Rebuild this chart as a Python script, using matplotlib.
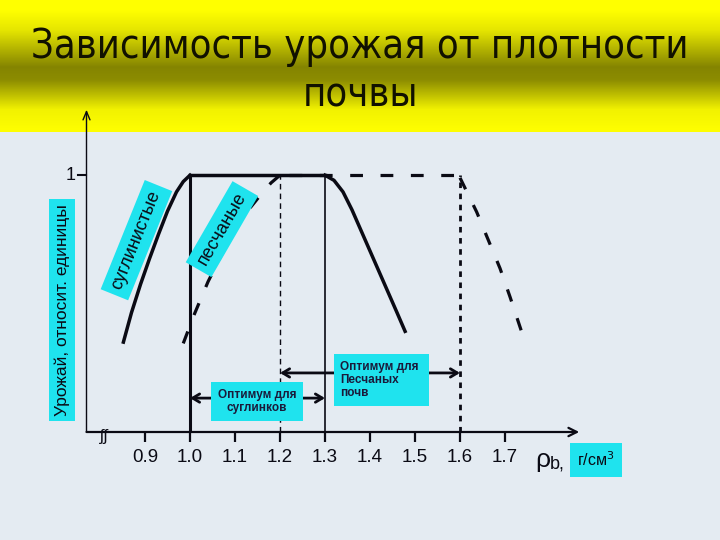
import numpy as np
import matplotlib.pyplot as plt

# данные (плотность, г/см3 -> относительный урожай)
clay_rise_x = [0.852, 0.87, 0.89, 0.91, 0.93, 0.95, 0.97, 0.985, 1.0]
clay_rise_y = [0.35, 0.465, 0.575, 0.675, 0.77, 0.86, 0.935, 0.975, 1.0]
clay_fall_x = [1.3, 1.32, 1.34, 1.36, 1.38, 1.40, 1.43, 1.46, 1.478]
clay_fall_y = [1.0, 0.98, 0.935, 0.865, 0.785, 0.705, 0.585, 0.465, 0.392]
sand_rise_x = [0.985, 1.01, 1.04, 1.07, 1.10, 1.13, 1.16, 1.18, 1.2]
sand_rise_y = [0.345, 0.46, 0.585, 0.69, 0.785, 0.865, 0.93, 0.97, 1.0]
sand_fall_x = [1.6, 1.637, 1.663, 1.689, 1.711, 1.737]
sand_fall_y = [0.99, 0.857, 0.747, 0.637, 0.527, 0.39]
opt_clay = (1.0, 1.3)
opt_sand = (1.2, 1.6)
xticks = [0.9, 1.0, 1.1, 1.2, 1.3, 1.4, 1.5, 1.6, 1.7]
xticklabels = ['0.9', '1.0', '1.1', '1.2', '1.3', '1.4', '1.5', '1.6', '1.7']

plt.rcParams['font.family'] = ['Liberation Sans', 'DejaVu Sans']
cyan = '#1FE3EE'
ink = '#0A0A14'

fig = plt.figure(figsize=(7.2, 5.4), dpi=100)
fig.patch.set_facecolor('#E4EBF2')

# фон слайда с желтой шапкой
bg = fig.add_axes([0, 0, 1, 1], zorder=-1)
bg.set_xlim(0, 720)
bg.set_ylim(540, 0)
bg.axis('off')
pos = [0, 10, 30, 67, 80, 110, 132]
lev = [1.0, 1.0, 0.9, 0.52, 0.55, 0.95, 1.0]
yy = np.linspace(0, 132, 200)
k = np.interp(yy, pos, lev)
grad = np.zeros((200, 2, 3))
grad[:, :, 0] = k[:, None]
grad[:, :, 1] = k[:, None]
bg.imshow(grad, extent=[0, 720, 132, 0], aspect='auto')
bg.text(360, 47, 'Зависимость урожая от плотности', ha='center', va='center',
        fontsize=28.5, color='#111100', family='DejaVu Sans', fontstretch='condensed')
bg.text(360, 95, 'почвы', ha='center', va='center', fontsize=28.5, color='#111100',
        family='DejaVu Sans', fontstretch='condensed')

# подпись оси Y
bg.text(62, 310, 'Урожай, относит. единицы', rotation=90, ha='center', va='center',
        fontsize=12.5, color=ink,
        bbox=dict(boxstyle='square,pad=0.3', fc=cyan, ec='none'))
bg.text(104, 436, 'ʃʃ', ha='center', va='center', fontsize=12, color=ink)

# область графика
ax = fig.add_axes([86.5 / 720, 108 / 540, (577 - 86.5) / 720, (432 - 111) / 540])
ax.set_xlim(0.77, 1.86)
ax.set_ylim(0, 1.25)
ax.patch.set_alpha(0)
for s in ax.spines.values():
    s.set_visible(False)

ax.annotate('', xy=(1.865, 0), xytext=(0.77, 0), annotation_clip=False,
            arrowprops=dict(arrowstyle='->,head_length=0.6,head_width=0.3',
                            color=ink, lw=1.6, shrinkA=0, shrinkB=0))
ax.annotate('', xy=(0.77, 1.255), xytext=(0.77, 0), annotation_clip=False,
            arrowprops=dict(arrowstyle='->,head_length=0.6,head_width=0.25',
                            color=ink, lw=1.0, shrinkA=0, shrinkB=0))

ax.set_xticks(xticks)
ax.set_xticklabels(xticklabels, fontsize=13.5, color=ink)
ax.tick_params(axis='x', direction='out', length=7.5, width=1.6, color=ink, pad=5)
ax.set_yticks([])
ax.plot([0.752, 0.77], [1, 1], color=ink, lw=1.5, clip_on=False)
ax.text(0.745, 1.0, '1', ha='right', va='center', fontsize=13, color=ink)

# суглинистые почвы
ax.plot(clay_rise_x, clay_rise_y, color=ink, lw=2.5)
ax.plot([clay_rise_x[-1], clay_fall_x[0]], [1, 1], color=ink, lw=2.5)
ax.plot(clay_fall_x, clay_fall_y, color=ink, lw=2.5)

# песчаные почвы
dash = dict(color=ink, lw=2.3, dashes=(4, 5.5), dash_capstyle='butt')
ax.plot(sand_rise_x, sand_rise_y, **dash)
ax.plot([sand_rise_x[-1] + 0.02, sand_fall_x[0]], [1, 1], **dash)
ax.plot(sand_fall_x, sand_fall_y, **dash)

# границы оптимумов
ax.plot([opt_clay[0]] * 2, [0, 1], color=ink, lw=2.2)
ax.plot([opt_clay[1]] * 2, [0, 1], color=ink, lw=1.2)
ax.plot([opt_sand[0]] * 2, [0, 1], color=ink, lw=1.0, dashes=(4, 3))
ax.plot([opt_sand[1]] * 2, [0, 1], color=ink, lw=2.0, dashes=(2, 2))

arrow = dict(arrowstyle='<->,head_length=0.5,head_width=0.3', color=ink, lw=2.0,
             shrinkA=0, shrinkB=0)
ax.annotate('', xy=(opt_clay[0], 0.132), xytext=(opt_clay[1], 0.132), arrowprops=arrow)
ax.annotate('', xy=(opt_sand[0], 0.23), xytext=(opt_sand[1], 0.23), arrowprops=arrow)

ax.text(1.149, 0.12, 'Оптимум для\nсуглинков', ha='center', va='center',
        fontsize=8.5, fontweight='bold', color='#1A1A3A', linespacing=1.1,
        bbox=dict(boxstyle='square,pad=0.6', fc=cyan, ec='none'))
ax.text(1.334, 0.203, 'Оптимум для \nПесчаных\nпочв', ha='left', va='center',
        fontsize=8.5, fontweight='bold', color='#1A1A3A', linespacing=1.15,
        bbox=dict(boxstyle='square,pad=0.55', fc=cyan, ec='none'))

ax.text(0.881, 0.747, 'суглинистые', rotation=68, ha='center', va='center',
        fontsize=13, color=ink,
        bbox=dict(boxstyle='square,pad=0.35', fc=cyan, ec='none'))
ax.text(1.071, 0.79, 'песчаные', rotation=60, ha='center', va='center',
        fontsize=13, color=ink,
        bbox=dict(boxstyle='square,pad=0.35', fc=cyan, ec='none'))

# единицы по оси X
bg.text(535, 460, 'ρ', ha='left', va='center', fontsize=19, color=ink)
bg.text(550, 464, 'b,', ha='left', va='center', fontsize=13, color=ink)
bg.text(596, 460, 'г/см$^3$', ha='center', va='center', fontsize=11.5, color=ink,
        bbox=dict(boxstyle='square,pad=0.45', fc=cyan, ec='none'))

fig.savefig('out.png', dpi=100, facecolor=fig.get_facecolor())
